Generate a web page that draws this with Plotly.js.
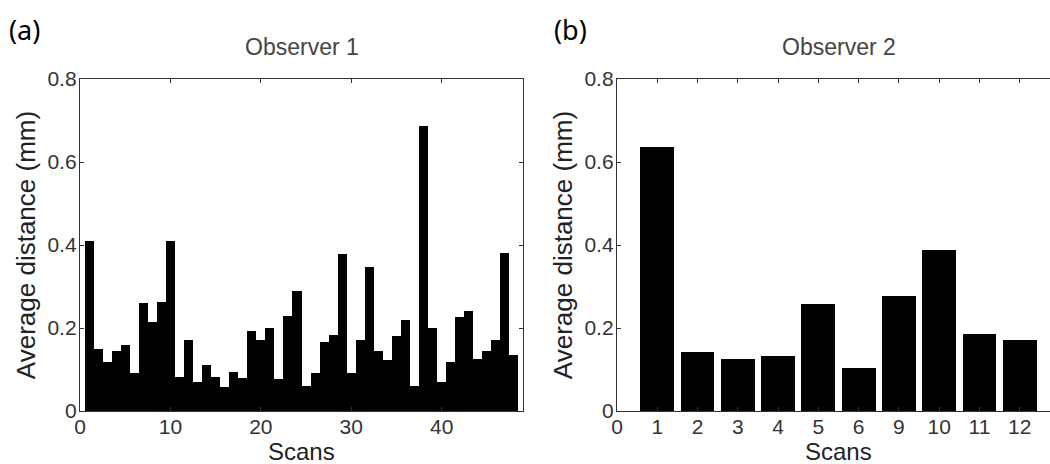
<!DOCTYPE html>
<html>
<head>
<meta charset="utf-8">
<script src="https://cdn.plot.ly/plotly-3.0.1.min.js"></script>
<style>
html, body { margin: 0; padding: 0; overflow: hidden; background: #fff; }
#chart { width: 1080px; height: 464px; }
</style>
</head>
<body>
<div id="chart"></div>
<script>
// Observer 1: average distance (mm) for scans 1..48
const obs1Values = [0.41, 0.149, 0.119, 0.145, 0.16, 0.091, 0.26, 0.215, 0.263, 0.41,
  0.081, 0.171, 0.071, 0.112, 0.081, 0.057, 0.093, 0.079, 0.193, 0.171,
  0.201, 0.076, 0.23, 0.29, 0.06, 0.091, 0.167, 0.182, 0.378, 0.091,
  0.171, 0.348, 0.145, 0.124, 0.181, 0.219, 0.06, 0.687, 0.201, 0.071,
  0.117, 0.226, 0.241, 0.125, 0.145, 0.171, 0.381, 0.135];
const obs1Scans = obs1Values.map((v, i) => i + 1);
const obs1TickVals = [0, 10, 20, 30, 40];

// Observer 2: average distance (mm) per scan label
const obs2Labels = ['1', '2', '3', '4', '5', '6', '9', '10', '11', '12'];
const obs2Values = [0.635, 0.141, 0.126, 0.133, 0.259, 0.104, 0.277, 0.388, 0.185, 0.170];
const obs2Pos = obs2Labels.map((l, i) => i + 1);
const obs2TickText = ['0'].concat(obs2Labels);
const obs2TickVals = obs2TickText.map((t, i) => i);

const yTicks = [0, 0.2, 0.4, 0.6, 0.8];
const yTickText = ['0', '0.2', '0.4', '0.6', '0.8'];

const W = 1080, H = 464;
const FAM = 'Liberation Sans, Arial, sans-serif';
const tickFont = {family: FAM, size: 21, color: '#333'};
const yTitleFont = {family: FAM, size: 26, color: '#222'};
const xTitleFont = {family: FAM, size: 24, color: '#222'};

const axBase = {
  showgrid: false, zeroline: false, showline: true, linecolor: '#333', linewidth: 1.2,
  ticks: 'inside', ticklen: 4, tickcolor: '#333', tickwidth: 1, mirror: 'ticks',
  tickfont: tickFont, fixedrange: true
};

const yDomain = [(H - 411) / H, (H - 79) / H];

const traces = [
  {type: 'bar', x: obs1Scans, y: obs1Values, width: 1, xaxis: 'x', yaxis: 'y',
   marker: {color: '#000', line: {width: 0}}, hoverinfo: 'x+y'},
  {type: 'bar', x: obs2Pos, y: obs2Values, width: 0.84, xaxis: 'x2', yaxis: 'y2',
   marker: {color: '#000', line: {width: 0}}, hoverinfo: 'y'}
];

const layout = {
  width: W, height: H,
  margin: {l: 0, r: 0, t: 0, b: 0},
  paper_bgcolor: '#fff', plot_bgcolor: '#fff',
  showlegend: false, bargap: 0,
  xaxis: Object.assign({}, axBase, {
    domain: [80 / W, 523 / W], range: [0, 49], tickvals: obs1TickVals,
    ticklabelstandoff: -3
  }),
  yaxis: Object.assign({}, axBase, {
    domain: yDomain, range: [0, 0.8], tickvals: yTicks, ticktext: yTickText,
    title: {text: 'Average distance (mm)', font: yTitleFont, standoff: 4}, ticklabelstandoff: -2
  }),
  xaxis2: Object.assign({}, axBase, {
    domain: [617 / W, 1060 / W], range: [0, 11], anchor: 'y2',
    tickvals: obs2TickVals, ticktext: obs2TickText,
    ticklabelstandoff: -3
  }),
  yaxis2: Object.assign({}, axBase, {
    domain: yDomain, range: [0, 0.8], anchor: 'x2', tickvals: yTicks, ticktext: yTickText,
    title: {text: 'Average distance (mm)', font: yTitleFont, standoff: 4}, ticklabelstandoff: -2
  }),
  annotations: [
    {text: 'Scans', xref: 'paper', yref: 'paper', x: (80 + 523) / 2 / W, y: (H - 451) / H,
     xanchor: 'center', yanchor: 'middle', showarrow: false, font: xTitleFont},
    {text: 'Scans', xref: 'paper', yref: 'paper', x: (617 + 1060) / 2 / W, y: (H - 451) / H,
     xanchor: 'center', yanchor: 'middle', showarrow: false, font: xTitleFont},
    {text: 'Observer 1', xref: 'paper', yref: 'paper', x: (80 + 523) / 2 / W, y: (H - 47) / H,
     xanchor: 'center', yanchor: 'middle', showarrow: false,
     font: {family: FAM, size: 23, color: '#444'}},
    {text: 'Observer 2', xref: 'paper', yref: 'paper', x: (617 + 1060) / 2 / W, y: (H - 47) / H,
     xanchor: 'center', yanchor: 'middle', showarrow: false,
     font: {family: FAM, size: 23, color: '#444'}},
    {text: '(a)', xref: 'paper', yref: 'paper', x: 7 / W, y: (H - 29) / H,
     xanchor: 'left', yanchor: 'middle', showarrow: false,
     font: {family: 'Noto Sans, Open Sans, sans-serif', size: 27, color: '#000'}},
    {text: '(b)', xref: 'paper', yref: 'paper', x: 552 / W, y: (H - 29) / H,
     xanchor: 'left', yanchor: 'middle', showarrow: false,
     font: {family: 'Noto Sans, Open Sans, sans-serif', size: 27, color: '#000'}}
  ]
};

Plotly.newPlot('chart', traces, layout, {displayModeBar: false, staticPlot: true});
</script>
</body>
</html>
